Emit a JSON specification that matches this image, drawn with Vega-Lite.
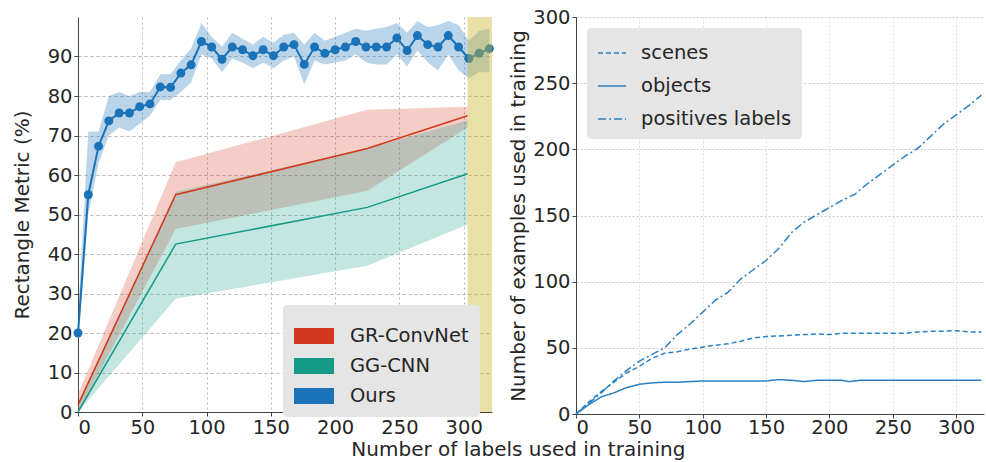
{
  "$schema": "https://vega.github.io/schema/vega-lite/v6.json",
  "padding": {"left": 12, "top": 7, "right": 0, "bottom": 0},
  "background": "white",
  "title": {"text": "Number of labels used in training", "orient": "bottom", "anchor": "middle", "dx": 20, "offset": 3, "fontSize": 20, "fontWeight": "normal", "font": "DejaVu Sans", "color": "#262626"},
  "config": {
    "font": "DejaVu Sans",
    "view": {"stroke": null},
    "axis": {"labelFont": "DejaVu Sans", "titleFont": "DejaVu Sans", "labelFontSize": 19.5, "titleFontSize": 20, "titleFontWeight": "normal", "labelColor": "#262626", "titleColor": "#262626", "domainColor": "#444444", "tickColor": "#444444", "tickSize": 4, "labelPadding": 2, "gridDash": [3, 3], "gridColor": "#b5b5b5"},
    "legend": {"labelFont": "DejaVu Sans", "labelFontSize": 19.5, "labelColor": "#262626"}
  },
  "datasets": {
    "ours": [
      {"model": "Ours", "x": 0, "y": 20, "lo": 17, "hi": 24},
      {"model": "Ours", "x": 8, "y": 55, "lo": 50, "hi": 71},
      {"model": "Ours", "x": 16, "y": 67.3, "lo": 63, "hi": 71},
      {"model": "Ours", "x": 24, "y": 73.7, "lo": 70, "hi": 80},
      {"model": "Ours", "x": 32, "y": 75.7, "lo": 72, "hi": 81},
      {"model": "Ours", "x": 40, "y": 75.7, "lo": 71, "hi": 80},
      {"model": "Ours", "x": 48, "y": 77.3, "lo": 73, "hi": 81},
      {"model": "Ours", "x": 56, "y": 78, "lo": 75, "hi": 81},
      {"model": "Ours", "x": 64, "y": 82.3, "lo": 79, "hi": 85.5},
      {"model": "Ours", "x": 72, "y": 82.2, "lo": 79, "hi": 85.5},
      {"model": "Ours", "x": 80, "y": 85.8, "lo": 81, "hi": 89},
      {"model": "Ours", "x": 88, "y": 87.9, "lo": 83.5, "hi": 92},
      {"model": "Ours", "x": 96, "y": 93.8, "lo": 90.5, "hi": 98.5},
      {"model": "Ours", "x": 104, "y": 92.4, "lo": 89.5, "hi": 95},
      {"model": "Ours", "x": 112, "y": 89.3, "lo": 86, "hi": 92.5},
      {"model": "Ours", "x": 120, "y": 92.4, "lo": 89.5, "hi": 96},
      {"model": "Ours", "x": 128, "y": 91.7, "lo": 88.5, "hi": 94.5},
      {"model": "Ours", "x": 136, "y": 90.2, "lo": 87, "hi": 93},
      {"model": "Ours", "x": 144, "y": 91.7, "lo": 88.5, "hi": 95},
      {"model": "Ours", "x": 152, "y": 90.2, "lo": 87, "hi": 93.5},
      {"model": "Ours", "x": 160, "y": 92.4, "lo": 89, "hi": 95.5},
      {"model": "Ours", "x": 168, "y": 93, "lo": 90, "hi": 96},
      {"model": "Ours", "x": 176, "y": 88, "lo": 83, "hi": 93},
      {"model": "Ours", "x": 184, "y": 92.4, "lo": 89, "hi": 96},
      {"model": "Ours", "x": 192, "y": 90.8, "lo": 88, "hi": 94},
      {"model": "Ours", "x": 200, "y": 91.7, "lo": 88.5, "hi": 95},
      {"model": "Ours", "x": 208, "y": 92.4, "lo": 89, "hi": 96},
      {"model": "Ours", "x": 216, "y": 93.8, "lo": 90.5, "hi": 97},
      {"model": "Ours", "x": 224, "y": 92.4, "lo": 88.5, "hi": 96.5},
      {"model": "Ours", "x": 232, "y": 92.4, "lo": 88, "hi": 97},
      {"model": "Ours", "x": 240, "y": 92.4, "lo": 88, "hi": 97.5},
      {"model": "Ours", "x": 248, "y": 94.7, "lo": 90.5, "hi": 98.5},
      {"model": "Ours", "x": 256, "y": 91.5, "lo": 87.5, "hi": 96},
      {"model": "Ours", "x": 264, "y": 95.3, "lo": 91.5, "hi": 99},
      {"model": "Ours", "x": 272, "y": 93, "lo": 88.5, "hi": 97.5},
      {"model": "Ours", "x": 280, "y": 92.4, "lo": 86.5, "hi": 98},
      {"model": "Ours", "x": 288, "y": 95.3, "lo": 90.5, "hi": 99},
      {"model": "Ours", "x": 296, "y": 92.4, "lo": 86.5, "hi": 98},
      {"model": "Ours", "x": 304, "y": 89.5, "lo": 84.5, "hi": 94},
      {"model": "Ours", "x": 312, "y": 90.8, "lo": 86, "hi": 96.5},
      {"model": "Ours", "x": 320, "y": 92, "lo": 86, "hi": 97}
    ],
    "base": [
      {"model": "GR-ConvNet", "x": 0, "y": 1.8, "lo": 0, "hi": 4.5},
      {"model": "GR-ConvNet", "x": 76, "y": 55, "lo": 46.3, "hi": 63.2},
      {"model": "GR-ConvNet", "x": 225, "y": 66.7, "lo": 56, "hi": 76.5},
      {"model": "GR-ConvNet", "x": 303, "y": 75, "lo": 72, "hi": 77.3},
      {"model": "GG-CNN", "x": 0, "y": 0, "lo": 0, "hi": 2},
      {"model": "GG-CNN", "x": 76, "y": 42.5, "lo": 28.7, "hi": 55.7},
      {"model": "GG-CNN", "x": 225, "y": 51.8, "lo": 37, "hi": 66.7},
      {"model": "GG-CNN", "x": 303, "y": 60.3, "lo": 47.5, "hi": 73.8}
    ],
    "band": [{"a": 303, "b": 322}],
    "counts": [
      {"series": "scenes", "x": 0, "y": 0}, {"series": "scenes", "x": 10, "y": 9}, {"series": "scenes", "x": 20, "y": 17}, {"series": "scenes", "x": 30, "y": 24}, {"series": "scenes", "x": 40, "y": 31}, {"series": "scenes", "x": 50, "y": 36}, {"series": "scenes", "x": 60, "y": 42}, {"series": "scenes", "x": 70, "y": 46}, {"series": "scenes", "x": 80, "y": 47}, {"series": "scenes", "x": 90, "y": 49}, {"series": "scenes", "x": 100, "y": 50.5}, {"series": "scenes", "x": 110, "y": 52}, {"series": "scenes", "x": 120, "y": 53}, {"series": "scenes", "x": 130, "y": 55}, {"series": "scenes", "x": 140, "y": 57.5}, {"series": "scenes", "x": 150, "y": 58.5}, {"series": "scenes", "x": 160, "y": 59}, {"series": "scenes", "x": 170, "y": 59.5}, {"series": "scenes", "x": 180, "y": 60}, {"series": "scenes", "x": 190, "y": 60.5}, {"series": "scenes", "x": 200, "y": 60}, {"series": "scenes", "x": 210, "y": 61}, {"series": "scenes", "x": 220, "y": 61}, {"series": "scenes", "x": 230, "y": 61}, {"series": "scenes", "x": 240, "y": 61}, {"series": "scenes", "x": 250, "y": 61}, {"series": "scenes", "x": 260, "y": 61}, {"series": "scenes", "x": 270, "y": 62}, {"series": "scenes", "x": 280, "y": 62.5}, {"series": "scenes", "x": 290, "y": 62.5}, {"series": "scenes", "x": 300, "y": 63}, {"series": "scenes", "x": 310, "y": 62}, {"series": "scenes", "x": 320, "y": 62},
      {"series": "objects", "x": 0, "y": 0}, {"series": "objects", "x": 10, "y": 7}, {"series": "objects", "x": 20, "y": 13}, {"series": "objects", "x": 30, "y": 16}, {"series": "objects", "x": 40, "y": 20}, {"series": "objects", "x": 50, "y": 22.5}, {"series": "objects", "x": 60, "y": 23.5}, {"series": "objects", "x": 70, "y": 24}, {"series": "objects", "x": 80, "y": 24}, {"series": "objects", "x": 90, "y": 24.5}, {"series": "objects", "x": 100, "y": 25}, {"series": "objects", "x": 150, "y": 25}, {"series": "objects", "x": 160, "y": 26}, {"series": "objects", "x": 170, "y": 25.5}, {"series": "objects", "x": 180, "y": 24.5}, {"series": "objects", "x": 190, "y": 25.5}, {"series": "objects", "x": 210, "y": 25.5}, {"series": "objects", "x": 215, "y": 24.5}, {"series": "objects", "x": 225, "y": 25.5}, {"series": "objects", "x": 320, "y": 25.5},
      {"series": "positives labels", "x": 0, "y": 0}, {"series": "positives labels", "x": 10, "y": 8}, {"series": "positives labels", "x": 20, "y": 16}, {"series": "positives labels", "x": 30, "y": 25}, {"series": "positives labels", "x": 40, "y": 33}, {"series": "positives labels", "x": 50, "y": 40}, {"series": "positives labels", "x": 60, "y": 45}, {"series": "positives labels", "x": 70, "y": 50}, {"series": "positives labels", "x": 80, "y": 60}, {"series": "positives labels", "x": 90, "y": 68}, {"series": "positives labels", "x": 100, "y": 77}, {"series": "positives labels", "x": 110, "y": 86}, {"series": "positives labels", "x": 120, "y": 92}, {"series": "positives labels", "x": 130, "y": 102}, {"series": "positives labels", "x": 140, "y": 109}, {"series": "positives labels", "x": 150, "y": 116}, {"series": "positives labels", "x": 160, "y": 125}, {"series": "positives labels", "x": 170, "y": 137}, {"series": "positives labels", "x": 180, "y": 145}, {"series": "positives labels", "x": 190, "y": 150.5}, {"series": "positives labels", "x": 200, "y": 156}, {"series": "positives labels", "x": 210, "y": 161.5}, {"series": "positives labels", "x": 220, "y": 166}, {"series": "positives labels", "x": 230, "y": 174}, {"series": "positives labels", "x": 240, "y": 181}, {"series": "positives labels", "x": 250, "y": 188}, {"series": "positives labels", "x": 260, "y": 195}, {"series": "positives labels", "x": 270, "y": 201}, {"series": "positives labels", "x": 280, "y": 210}, {"series": "positives labels", "x": 290, "y": 219}, {"series": "positives labels", "x": 300, "y": 226}, {"series": "positives labels", "x": 310, "y": 233}, {"series": "positives labels", "x": 320, "y": 241}
    ]
  },
  "spacing": 14,
  "hconcat": [
    {
      "width": 414,
      "height": 395,
      "encoding": {
        "x": {"field": "x", "type": "quantitative", "scale": {"domain": [0, 322], "nice": false}, "axis": {"title": null, "values": [0, 50, 100, 150, 200, 250, 300], "grid": true, "gridDash": [2, 3]}}
      },
      "layer": [
        {
          "data": {"name": "base"},
          "transform": [{"filter": "datum.x < 0"}],
          "mark": {"type": "rect", "opacity": 1},
          "encoding": {
            "y": {"field": "lo", "type": "quantitative", "scale": {"domain": [0, 100], "nice": false}, "axis": {"title": "Rectangle Metric (%)", "values": [0, 10, 20, 30, 40, 50, 60, 70, 80, 90], "grid": true, "titlePadding": 15}},
            "color": {"field": "model", "type": "nominal", "scale": {"domain": ["GR-ConvNet", "GG-CNN", "Ours"], "range": ["#d2381c", "#149a87", "#1a72b8"]},
              "legend": {"title": null, "orient": "none", "legendX": 205, "legendY": 288, "fillColor": "#e5e5e5", "cornerRadius": 4, "padding": 11, "symbolType": "M-1,-0.4H1V0.4H-1Z", "symbolSize": 1600, "symbolOpacity": 1, "symbolStrokeWidth": 0, "labelOffset": 16, "rowPadding": -3,
                "encode": {"symbols": {"update": {"opacity": {"value": 1}}}}}}
          }
        },
        {
          "data": {"name": "base"},
          "transform": [{"filter": "datum.model === 'GR-ConvNet'"}],
          "mark": {"type": "area", "fillOpacity": 0.25},
          "encoding": {
            "y": {"field": "lo", "type": "quantitative"},
            "y2": {"field": "hi"},
            "fill": {"field": "model", "type": "nominal", "scale": {"domain": ["GR-ConvNet", "GG-CNN", "Ours"], "range": ["#d2381c", "#149a87", "#1a72b8"]}, "legend": null}
          }
        },
        {
          "data": {"name": "base"},
          "transform": [{"filter": "datum.model === 'GG-CNN'"}],
          "mark": {"type": "area", "fillOpacity": 0.25},
          "encoding": {
            "y": {"field": "lo", "type": "quantitative"},
            "y2": {"field": "hi"},
            "fill": {"field": "model", "type": "nominal", "legend": null}
          }
        },
        {
          "data": {"name": "base"},
          "mark": {"type": "line", "strokeWidth": 1.5},
          "encoding": {
            "y": {"field": "y", "type": "quantitative"},
            "stroke": {"field": "model", "type": "nominal", "scale": {"domain": ["GR-ConvNet", "GG-CNN", "Ours"], "range": ["#d2381c", "#149a87", "#1a72b8"]}, "legend": null}
          }
        },
        {
          "data": {"name": "ours"},
          "mark": {"type": "area", "fillOpacity": 0.3},
          "encoding": {
            "y": {"field": "lo", "type": "quantitative"},
            "y2": {"field": "hi"},
            "fill": {"field": "model", "type": "nominal", "legend": null}
          }
        },
        {
          "data": {"name": "ours"},
          "mark": {"type": "line", "strokeWidth": 2},
          "encoding": {
            "y": {"field": "y", "type": "quantitative"},
            "stroke": {"field": "model", "type": "nominal", "legend": null}
          }
        },
        {
          "data": {"name": "ours"},
          "mark": {"type": "point", "filled": true, "opacity": 1, "size": 80},
          "encoding": {
            "y": {"field": "y", "type": "quantitative"},
            "color": {"field": "model", "type": "nominal"}
          }
        },
        {
          "data": {"name": "band"},
          "mark": {"type": "rect", "color": "#cdb52e", "opacity": 0.42},
          "encoding": {
            "x": {"field": "a", "type": "quantitative"},
            "x2": {"field": "b"}
          }
        }
      ]
    },
    {
      "width": 408,
      "height": 397,
      "data": {"name": "counts"},
      "mark": {"type": "line", "strokeWidth": 1.5, "color": "#2b80c2"},
      "encoding": {
        "x": {"field": "x", "type": "quantitative", "scale": {"domain": [0, 322], "nice": false}, "axis": {"title": null, "values": [0, 50, 100, 150, 200, 250, 300], "grid": true, "gridColor": "#dddddd", "gridDash": [2, 2], "labelPadding": 0}},
        "y": {"field": "y", "type": "quantitative", "scale": {"domain": [0, 300], "nice": false}, "axis": {"title": "Number of examples used in training", "values": [0, 50, 100, 150, 200, 250, 300], "grid": true, "gridColor": "#c8c8c8", "gridDash": [2, 2], "titlePadding": 4}},
        "strokeDash": {"field": "series", "type": "nominal", "scale": {"domain": ["scenes", "objects", "positives labels"], "range": [[5, 3], [1, 0], [8, 3, 2, 3]]},
          "legend": {"title": null, "orient": "none", "legendX": 509, "legendY": 11, "fillColor": "#e5e5e5", "cornerRadius": 4, "padding": 10, "symbolType": "stroke", "symbolSize": 784, "symbolStrokeColor": "#2b80c2", "symbolStrokeWidth": 1.5, "labelOffset": 14, "rowPadding": 8}}
      }
    }
  ]
}
